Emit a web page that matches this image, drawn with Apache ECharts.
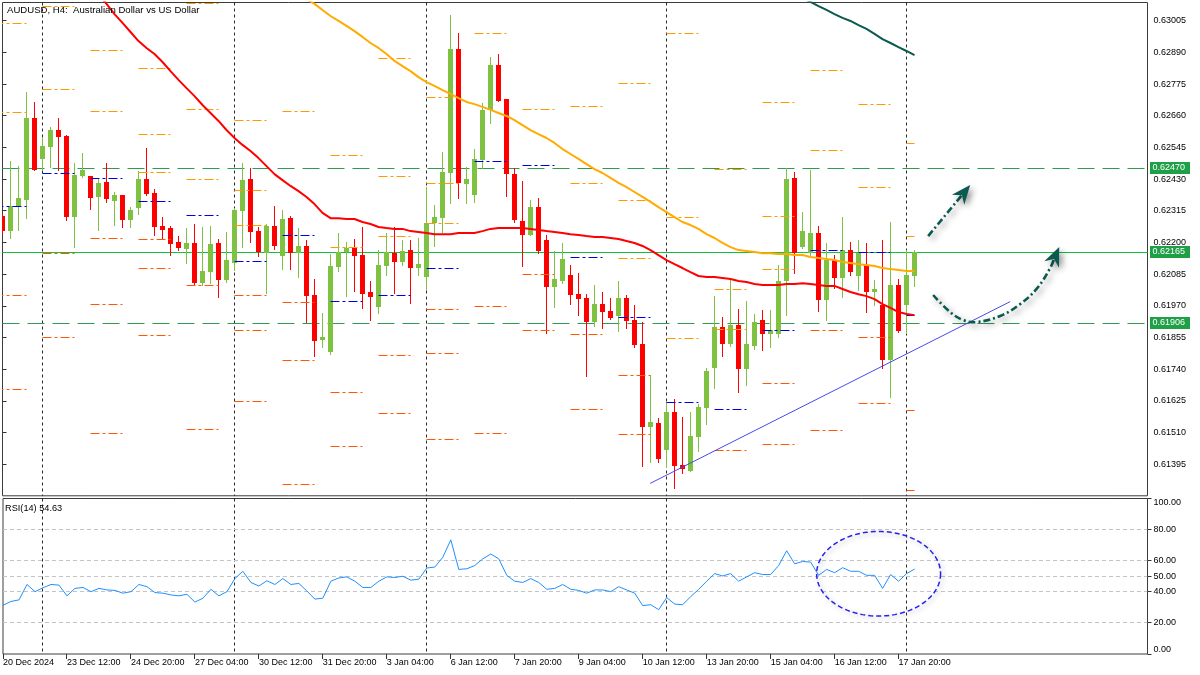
<!DOCTYPE html>
<html>
<head>
<meta charset="utf-8">
<script src="https://cdn.jsdelivr.net/npm/echarts@6/dist/echarts.min.js"></script>
<style>html,body{margin:0;padding:0;background:#fff}#c{width:1200px;height:675px}</style>
</head>
<body>
<div id="c"></div>
<script>
// ---------------- DATA ----------------
const chartTitle = 'AUDUSD, H4:  Australian Dollar vs US Dollar';
const rsiTitle = 'RSI(14) 54.63';
const timeLabels = ['20 Dec 2024','23 Dec 12:00','24 Dec 20:00','27 Dec 04:00','30 Dec 12:00','31 Dec 20:00','3 Jan 04:00','6 Jan 12:00','7 Jan 20:00','9 Jan 04:00','10 Jan 12:00','13 Jan 20:00','15 Jan 04:00','16 Jan 12:00','17 Jan 20:00'];
const labelStep = 8; // bars between time labels

const opens = [0.62296,0.62241,0.62332,0.62354,0.62652,0.62503,0.62546,0.62608,0.62586,0.62292,
0.62441,0.62441,0.62365,0.62419,0.62350,0.62372,0.62281,0.62325,0.62430,0.62379,
0.62259,0.62252,0.62201,0.62176,0.62198,0.62052,0.62092,0.62198,0.62063,0.62125,
0.62314,0.62430,0.62241,0.62161,0.62259,0.62151,0.62288,0.62161,0.62187,0.62009,
0.61846,0.61802,0.62111,0.62165,0.62180,0.62154,0.62020,0.61965,0.62114,0.62161,
0.62129,0.62172,0.62107,0.62074,0.62270,0.62288,0.62452,0.62902,0.62412,0.62372,
0.62499,0.62681,0.62844,0.62721,0.62448,0.62278,0.62227,0.62328,0.62209,0.62038,
0.62060,0.62082,0.62012,0.61998,0.61911,0.61976,0.61951,0.61933,0.61998,0.61918,
0.61831,0.61530,0.61544,0.61446,0.61584,0.61392,0.61370,0.61493,0.61599,0.61744,
0.61893,0.61831,0.61900,0.61740,0.61824,0.61918,0.61867,0.61867,0.62060,0.62434,
0.62183,0.62161,0.62234,0.61991,0.62136,0.62071,0.62172,0.62078,0.62118,0.62020,
0.61973,0.61773,0.62045,0.61973,0.62078];
const closes = [0.62241,0.62332,0.62361,0.62652,0.62463,0.62550,0.62608,0.62583,0.62292,0.62445,
0.62463,0.62361,0.62416,0.62357,0.62372,0.62281,0.62318,0.62430,0.62376,0.62256,
0.62245,0.62194,0.62180,0.62198,0.62052,0.62096,0.62194,0.62063,0.62136,0.62318,
0.62426,0.62238,0.62165,0.62259,0.62187,0.62285,0.62161,0.62187,0.62005,0.61842,
0.61856,0.62114,0.62165,0.62180,0.62151,0.62012,0.62002,0.62118,0.62165,0.62129,
0.62169,0.62107,0.62121,0.62270,0.62292,0.62456,0.62902,0.62416,0.62430,0.62503,
0.62681,0.62844,0.62713,0.62448,0.62281,0.62227,0.62328,0.62169,0.62038,0.62067,
0.62140,0.62009,0.61994,0.61911,0.61976,0.61947,0.61925,0.61998,0.61914,0.61827,
0.61530,0.61548,0.61413,0.61584,0.61388,0.61377,0.61497,0.61602,0.61733,0.61893,
0.61831,0.61900,0.61740,0.61831,0.61911,0.61867,0.61882,0.62060,0.62430,0.62161,
0.62241,0.62234,0.61991,0.62136,0.62071,0.62172,0.62092,0.62161,0.62020,0.62031,
0.61773,0.62045,0.61878,0.62082,0.62165];
const lows = [0.62234,0.62216,0.62245,0.62288,0.62463,0.62463,0.62474,0.62463,0.62281,0.62183,
0.62437,0.62321,0.62245,0.62347,0.62263,0.62256,0.62256,0.62303,0.62372,0.62227,
0.62212,0.62154,0.62172,0.62125,0.62045,0.62045,0.62052,0.62002,0.62056,0.62100,
0.62183,0.62201,0.62151,0.62016,0.62176,0.62103,0.62103,0.62074,0.61911,0.61787,
0.61820,0.61795,0.62096,0.62005,0.62023,0.61962,0.61918,0.61944,0.62082,0.62016,
0.62118,0.61980,0.62082,0.62031,0.62187,0.62238,0.62343,0.62361,0.62343,0.62347,
0.62470,0.62633,0.62713,0.62368,0.62274,0.62114,0.62227,0.62161,0.61871,0.61965,
0.62052,0.61976,0.61936,0.61715,0.61896,0.61889,0.61922,0.61878,0.61889,0.61820,
0.61388,0.61403,0.61403,0.61384,0.61308,0.61363,0.61370,0.61442,0.61540,0.61671,
0.61787,0.61824,0.61657,0.61682,0.61813,0.61809,0.61820,0.61856,0.61936,0.62089,
0.62180,0.62154,0.61951,0.61918,0.62034,0.62002,0.62082,0.62027,0.61947,0.61973,
0.61744,0.61639,0.61875,0.61871,0.62042];
const highs = [0.62303,0.62495,0.62477,0.62746,0.62710,0.62583,0.62619,0.62652,0.62590,0.62488,
0.62525,0.62441,0.62434,0.62488,0.62383,0.62372,0.62328,0.62459,0.62543,0.62394,
0.62292,0.62259,0.62223,0.62252,0.62267,0.62256,0.62259,0.62212,0.62238,0.62325,
0.62488,0.62470,0.62256,0.62267,0.62332,0.62318,0.62296,0.62252,0.62209,0.62067,
0.61944,0.62158,0.62234,0.62201,0.62212,0.62256,0.62060,0.62172,0.62234,0.62256,
0.62209,0.62209,0.62216,0.62401,0.62336,0.62528,0.63026,0.62960,0.62474,0.62539,
0.62706,0.62873,0.62884,0.62721,0.62470,0.62423,0.62354,0.62361,0.62227,0.62169,
0.62198,0.62118,0.62089,0.62012,0.62045,0.62020,0.61998,0.62060,0.62009,0.61973,
0.61911,0.61718,0.61562,0.61620,0.61631,0.61566,0.61584,0.61613,0.61744,0.62005,
0.61929,0.62063,0.61958,0.61987,0.61940,0.61954,0.61954,0.62118,0.62470,0.62456,
0.62310,0.62463,0.62259,0.62198,0.62154,0.62292,0.62201,0.62209,0.62198,0.62063,
0.62209,0.62274,0.62067,0.62172,0.62172];

const rsi = [31.3,33.8,34.8,44.7,40.1,42.6,44.7,44.3,37.4,42.2,
42.8,40.1,42.2,41.2,40.9,39.1,40.1,44.7,43.3,39.5,
39.1,38.0,37.4,38.4,33.4,35.9,41.6,37.4,40.1,48.5,
53.2,46.0,43.7,47.1,44.7,48.5,44.7,45.4,40.5,35.3,
35.9,46.8,48.9,49.6,46.8,42.8,42.8,46.8,49.6,49.2,
50.0,47.5,48.1,55.3,55.9,62.2,73.4,54.4,54.8,56.9,
61.2,64.3,61.2,50.6,46.8,46.0,48.5,46.0,41.6,42.2,
44.7,41.6,40.9,39.1,41.2,41.2,40.1,43.3,41.2,39.1,
31.1,31.7,28.5,36.3,32.1,31.7,36.9,41.6,46.8,51.7,
50.2,51.7,46.8,49.6,52.3,51.1,51.1,56.9,66.4,58.0,
59.5,59.1,50.6,54.4,52.3,55.5,53.2,53.2,50.6,50.6,
42.2,51.1,46.8,51.7,54.63];
const rsiLevels = [20, 40, 50, 60, 80];
const rsiAxisLabels = [0, 20, 40, 50, 60, 80, 100];

const maRedStart = 12;
const maRed = [0.63102,0.63066,0.63029,0.62997,0.62964,0.62931,0.62906,0.62884,0.62855,0.62822,
0.62790,0.62760,0.62731,0.62699,0.62670,0.62641,0.62608,0.62579,0.62554,0.62532,
0.62506,0.62477,0.62448,0.62426,0.62405,0.62386,0.62365,0.62339,0.62307,0.62288,
0.62288,0.62285,0.62285,0.62274,0.62267,0.62256,0.62252,0.62249,0.62249,0.62241,
0.62238,0.62234,0.62230,0.62230,0.62230,0.62234,0.62234,0.62234,0.62241,0.62249,
0.62252,0.62252,0.62252,0.62252,0.62249,0.62245,0.62241,0.62238,0.62234,0.62230,
0.62227,0.62223,0.62220,0.62220,0.62216,0.62212,0.62205,0.62198,0.62187,0.62172,
0.62154,0.62136,0.62121,0.62107,0.62092,0.62078,0.62074,0.62074,0.62071,0.62067,
0.62060,0.62056,0.62049,0.62045,0.62045,0.62045,0.62049,0.62049,0.62052,0.62049,
0.62045,0.62042,0.62042,0.62031,0.62020,0.62012,0.62005,0.61994,0.61976,0.61962,
0.61947,0.61940,0.61936];
const maOrangeStart = 38;
const maOrange = [0.63084,0.63066,0.63044,0.63022,0.63004,0.62986,0.62967,0.62946,0.62924,0.62906,
0.62884,0.62859,0.62840,0.62822,0.62800,0.62782,0.62768,0.62753,0.62739,0.62724,
0.62710,0.62702,0.62692,0.62681,0.62670,0.62659,0.62644,0.62626,0.62608,0.62593,
0.62579,0.62561,0.62539,0.62521,0.62503,0.62484,0.62466,0.62452,0.62434,0.62416,
0.62401,0.62383,0.62365,0.62347,0.62328,0.62310,0.62292,0.62274,0.62263,0.62249,
0.62230,0.62216,0.62198,0.62183,0.62172,0.62169,0.62165,0.62161,0.62161,0.62158,
0.62158,0.62154,0.62154,0.62147,0.62143,0.62140,0.62136,0.62129,0.62125,0.62121,
0.62118,0.62114,0.62107,0.62103,0.62100,0.62096,0.62096];
const maTealStart = 100;
const maTeal = [0.63087,0.63073,0.63058,0.63044,0.63029,0.63015,0.63004,0.62989,0.62975,0.62957,0.62938,0.62924,0.62909,0.62895,0.62880];

const separators = [5, 29, 53, 83, 113];

const pivotStarts = [-1,5,11,17,23,29,35,41,47,53,59,65,71,77,83,89,95,101,107,113];
const pivotCentral = [0.62331,0.62451,0.62433,0.62348,0.62296,0.62131,0.62226,0.61986,0.62008,0.62106,0.62494,0.62480,0.62146,0.61928,0.61619,0.61594,0.61881,0.62172,0.62162,0.61933];
const pivotAbove = [[0.62995,0.62672],[0.63055,0.62756],[0.62895,0.62677],[0.62832,0.62592,0.62454],[0.63066,0.62681,0.62429],
[0.62644,0.62390,0.62261],[0.62677],[0.62514,0.62182],[0.62868,0.62441,0.62222],[0.62727,0.62414,0.62269],
[0.62959],[0.62683],[0.62694,0.62414],[0.62778,0.62353,0.62142],[0.62959,0.62291,0.61852],
[0.62463,0.62030,0.61882],[0.62709,0.62295,0.62102],[0.62825,0.62534],[0.62701,0.62400],[0.62560,0.62222]];
const pivotBelow = [[0.62009,0.61666],[0.62160,0.61855],[0.62215,0.61973,0.61507],[0.62212,0.62106,0.61861],[0.62045,0.61521],
[0.62009,0.61880,0.61623],[0.61982,0.61772,0.61322],[0.61656,0.61460],[0.61790,0.61579],[0.61957,0.61797,0.61485],
[0.61969,0.61507],[0.62082,0.61880],[0.61866,0.61594],[0.61716,0.61503],[],
[0.61445],[0.61688,0.61467],[0.61880,0.61518],[0.61855,0.61616],[0.61590,0.61301]];
const pivotBars = 4;

const levelResist = 0.62470;
const levelBid = 0.62165;
const levelSupport = 0.61906;

const trendLine = [[80.96, 0.61325], [125.96, 0.61985]];
const arrowStraight = [[115.71, 0.62223], [120.96, 0.62408]];
const arrowCurve = [[116.33,0.62009],[118.46,0.61947],[120.09,0.61918],[121.84,0.61911],[124.71,0.61933],[127.21,0.61976],[129.34,0.62034],[130.96,0.62107],[132.09,0.62183]];
const rsiEllipseCenter = [109.5, 51.6];
const rsiEllipseRadius = [7.75, 27.2];

const priceMin = 0.6128, priceMax = 0.63071, priceStep = 0.00115;
const barsShown = 143.125;

// ---------------- CHART ----------------
const FONT = '"Liberation Sans", Arial, sans-serif';
const chart = echarts.init(document.getElementById('c'), null, {renderer: 'canvas', width: 1200, height: 675});
const N = opens.length;

function snap(v) { return Math.round(v - 0.5) + 0.5; }

function renderCandle(params, api) {
  const k = api.value(0), o = api.value(1), c = api.value(2), l = api.value(3), h = api.value(4);
  const pO = api.coord([k, o]), pC = api.coord([k, c]), pL = api.coord([k, l]), pH = api.coord([k, h]);
  const x = snap(pO[0]);
  const col = c >= o ? '#7fc241' : '#ff0000';
  const top = Math.round(Math.min(pO[1], pC[1]));
  const bot = Math.round(Math.max(pO[1], pC[1]));
  return {type: 'group', children: [
    {type: 'line', shape: {x1: x, y1: Math.round(pH[1]), x2: x, y2: Math.round(pL[1]) + 1}, style: {stroke: col, lineWidth: 1}},
    {type: 'rect', shape: {x: x - 2.5, y: top, width: 5, height: Math.max(1, bot - top)}, style: {fill: col}}
  ]};
}

function renderPivot(params, api) {
  const d = params.dataIndex;
  const s = pivotStarts[d];
  const e = Math.min(s + pivotBars, N - 1);
  const children = [];
  function seg(price, color) {
    const a = api.coord([s, price]), b = api.coord([e, price]);
    const y = snap(a[1]);
    children.push({type: 'line', shape: {x1: a[0], y1: y, x2: b[0], y2: y},
      style: {stroke: color, lineWidth: 1.2, lineDash: [9, 3, 3, 3]}});
  }
  pivotAbove[d].forEach(p => seg(p, '#ff9a00'));
  pivotBelow[d].forEach(p => seg(p, '#ff5a00'));
  seg(pivotCentral[d], '#0000e6');
  return {type: 'group', children};
}

function renderHLines(params, api) {
  const price = api.value(0), kind = api.value(1);
  const a = api.coord([0, price]), b = api.coord([barsShown, price]);
  const y = snap(a[1]);
  return {type: 'line', shape: {x1: a[0], y1: y, x2: b[0], y2: y},
    style: kind === 1 ? {stroke: '#12c13b', lineWidth: 1} : {stroke: '#2e9a52', lineWidth: 1.2, lineDash: [17, 8]}};
}

function renderTag(params, api) {
  const price = api.value(0);
  const p = api.coord([barsShown, price]);
  const y = Math.round(p[1]);
  return {type: 'group', children: [
    {type: 'rect', shape: {x: p[0] + 2.5, y: y - 6, width: 40, height: 12}, style: {fill: '#1fa047'}},
    {type: 'text', x: p[0] + 5, y: y, style: {text: price.toFixed(5), fill: '#ffffff', font: '9px ' + FONT,
      align: 'left', verticalAlign: 'middle', textAlign: 'left', textVerticalAlign: 'middle'}}
  ]};
}

function renderSeparator(yLo, yHi) {
  return function (params, api) {
    const k = api.value(0);
    const a = api.coord([k, yHi]), b = api.coord([k, yLo]);
    const x = snap(a[0]);
    return {type: 'line', shape: {x1: x, y1: a[1], x2: x, y2: b[1]},
      style: {stroke: '#2a2a2a', lineWidth: 1, lineDash: [3, 3]}};
  };
}

function renderTimeTick(params, api) {
  const k = api.value(0);
  const a = api.coord([k, 0]);
  const x = snap(a[0]);
  return {type: 'line', shape: {x1: x, y1: a[1], x2: x, y2: a[1] + 5}, style: {stroke: '#333', lineWidth: 1}};
}

function renderRsiLevel(params, api) {
  const v = api.value(0), isLevel = api.value(1);
  const a = api.coord([0, v]), b = api.coord([barsShown, v]);
  const y = snap(a[1]);
  const children = [];
  if (isLevel) {
    children.push({type: 'line', shape: {x1: a[0], y1: y, x2: b[0], y2: y},
      style: {stroke: '#c4c4c4', lineWidth: 1, lineDash: [4, 3]}});
  }
  children.push({type: 'line', shape: {x1: b[0], y1: y, x2: b[0] + 4, y2: y}, style: {stroke: '#333', lineWidth: 1}});
  return {type: 'group', children};
}

function arrowShapes(pts, api, smooth) {
  const px = pts.map(p => api.coord(p));
  const n = px.length;
  const tip = px[n - 1], prev = px[n - 2];
  const ang = Math.atan2(tip[1] - prev[1], tip[0] - prev[0]);
  const L = 19, W = 8, notch = 6;
  const cs = Math.cos(ang), sn = Math.sin(ang);
  const back = [tip[0] - L * cs, tip[1] - L * sn];
  const left = [back[0] + W * sn, back[1] - W * cs];
  const right = [back[0] - W * sn, back[1] + W * cs];
  const inner = [tip[0] - (L - notch) * cs, tip[1] - (L - notch) * sn];
  const linePts = px.slice(0, n - 1).concat([inner]);
  const shadow = {shadowBlur: 6, shadowColor: 'rgba(0,0,0,0.45)', shadowOffsetX: 3, shadowOffsetY: 3};
  return [
    {type: 'polyline', shape: {points: linePts, smooth: smooth},
      style: Object.assign({stroke: '#0b5a50', lineWidth: 2.6, fill: null, lineDash: [7, 3, 2, 3]}, shadow)},
    {type: 'polygon', shape: {points: [tip, left, inner, right]},
      style: Object.assign({fill: '#0b5a50'}, shadow)}
  ];
}

function renderArrows(params, api) {
  return {type: 'group', children: arrowShapes(arrowStraight, api, 0).concat(arrowShapes(arrowCurve, api, 0.4))};
}

function renderEllipse(params, api) {
  const c = api.coord(rsiEllipseCenter);
  const e = api.coord([rsiEllipseCenter[0] + rsiEllipseRadius[0], rsiEllipseCenter[1] + rsiEllipseRadius[1]]);
  const rx = Math.abs(e[0] - c[0]), ry = Math.abs(e[1] - c[1]);
  const pts = [];
  for (let i = 0; i <= 96; i++) {
    const t = i / 96 * Math.PI * 2;
    pts.push([c[0] + rx * Math.cos(t), c[1] + ry * Math.sin(t)]);
  }
  return {type: 'polyline', shape: {points: pts},
    style: {stroke: '#2323f0', lineWidth: 1.5, fill: null, lineDash: [5, 3],
      shadowBlur: 5, shadowColor: 'rgba(0,0,0,0.3)', shadowOffsetX: 2, shadowOffsetY: 2}};
}

const axisFont = {fontSize: 9, color: '#000', fontFamily: FONT};

const option = {
  animation: false,
  backgroundColor: '#ffffff',
  title: [
    {text: chartTitle, left: 7, top: 5, padding: 0, textStyle: {fontSize: 9.6, fontWeight: 'normal', color: '#000', fontFamily: FONT}},
    {text: rsiTitle, left: 5, top: 504, padding: 0, textStyle: {fontSize: 9.2, fontWeight: 'normal', color: '#000', fontFamily: FONT}}
  ],
  grid: [
    {left: 2.5, right: 52.5, top: 2.5, height: 493.3, show: true, borderColor: '#3c3c3c', borderWidth: 1, backgroundColor: 'transparent'},
    {left: 2.5, right: 52.5, top: 498.5, height: 155.5, show: true, borderColor: '#3c3c3c', borderWidth: 1, backgroundColor: 'transparent'}
  ],
  xAxis: [
    {type: 'value', gridIndex: 0, min: 0, max: barsShown, show: false},
    {type: 'value', gridIndex: 1, min: 0, max: barsShown, interval: labelStep,
      axisLine: {show: false}, splitLine: {show: false}, axisTick: {show: false},
      axisLabel: Object.assign({align: 'left', margin: 4, showMaxLabel: false,
        formatter: v => { const i = v / labelStep; return Math.abs(i - Math.round(i)) < 1e-6 && timeLabels[Math.round(i)] ? timeLabels[Math.round(i)] : ''; }}, axisFont)}
  ],
  yAxis: [
    {type: 'value', gridIndex: 0, position: 'right', min: priceMin, max: priceMax, interval: priceStep,
      axisLine: {show: false}, splitLine: {show: false},
      axisTick: {show: true, length: 4, lineStyle: {color: '#333'}},
      axisLabel: Object.assign({margin: 6, showMinLabel: false, showMaxLabel: false, formatter: v => v.toFixed(5)}, axisFont)},
    {type: 'value', gridIndex: 1, position: 'right', min: 0, max: 100, interval: 10,
      axisLine: {show: false}, splitLine: {show: false}, axisTick: {show: false},
      axisLabel: Object.assign({margin: 6, verticalAlignMinLabel: 'bottom', verticalAlignMaxLabel: 'top',
        formatter: v => rsiAxisLabels.indexOf(Math.round(v)) >= 0 ? v.toFixed(2) : ''}, axisFont)}
  ],
  series: [
    {type: 'custom', name: 'sepMain', xAxisIndex: 0, yAxisIndex: 0, z: 1, silent: true,
      data: separators.map(k => [k, priceMin]), encode: {x: 0, y: 1}, renderItem: renderSeparator(priceMin, priceMax)},
    {type: 'custom', name: 'sepRsi', xAxisIndex: 1, yAxisIndex: 1, z: 1, silent: true,
      data: separators.map(k => [k, 0]), encode: {x: 0, y: 1}, renderItem: renderSeparator(0, 100)},
    {type: 'custom', name: 'timeTicks', xAxisIndex: 1, yAxisIndex: 1, z: 1, silent: true, clip: false,
      data: timeLabels.map((t, i) => [i * labelStep, 0]), encode: {x: 0, y: 1}, renderItem: renderTimeTick},
    {type: 'custom', name: 'rsiLevels', xAxisIndex: 1, yAxisIndex: 1, z: 1, silent: true, clip: false,
      data: rsiAxisLabels.map(v => [v, rsiLevels.indexOf(v) >= 0 ? 1 : 0]), encode: {x: 1, y: 0}, renderItem: renderRsiLevel},
    {type: 'custom', name: 'hlines', xAxisIndex: 0, yAxisIndex: 0, z: 2, silent: true,
      data: [[levelResist, 0], [levelBid, 1], [levelSupport, 0]], encode: {y: 0}, renderItem: renderHLines},
    {type: 'custom', name: 'candles', xAxisIndex: 0, yAxisIndex: 0, z: 3, clip: true, silent: true,
      data: opens.map((o, i) => [i, o, closes[i], lows[i], highs[i]]), encode: {x: 0, y: [1, 2, 3, 4]}, renderItem: renderCandle},
    {type: 'custom', name: 'pivots', xAxisIndex: 0, yAxisIndex: 0, z: 4, clip: true, silent: true,
      data: pivotStarts.map((s, i) => [s, pivotCentral[i]]), encode: {x: 0, y: 1}, renderItem: renderPivot},
    {type: 'line', name: 'maTeal', xAxisIndex: 0, yAxisIndex: 0, z: 5, clip: true, silent: true, showSymbol: false, symbol: 'none',
      data: maTeal.map((v, i) => [maTealStart + i, v]), lineStyle: {color: '#0a5a4e', width: 2}},
    {type: 'line', name: 'maOrange', xAxisIndex: 0, yAxisIndex: 0, z: 5, clip: true, silent: true, showSymbol: false, symbol: 'none',
      data: maOrange.map((v, i) => [maOrangeStart + i, v]), lineStyle: {color: '#ffab00', width: 2}},
    {type: 'line', name: 'maRed', xAxisIndex: 0, yAxisIndex: 0, z: 5, clip: true, silent: true, showSymbol: false, symbol: 'none',
      data: maRed.map((v, i) => [maRedStart + i, v]), lineStyle: {color: '#ff0000', width: 2}},
    {type: 'line', name: 'trend', xAxisIndex: 0, yAxisIndex: 0, z: 5, clip: true, silent: true, showSymbol: false, symbol: 'none',
      data: trendLine, lineStyle: {color: '#4a4ae8', width: 1}},
    {type: 'custom', name: 'arrows', xAxisIndex: 0, yAxisIndex: 0, z: 6, clip: true, silent: true,
      data: [arrowStraight[0]], encode: {x: 0, y: 1}, renderItem: renderArrows},
    {type: 'custom', name: 'tags', xAxisIndex: 0, yAxisIndex: 0, z: 7, clip: false, silent: true,
      data: [[levelResist], [levelBid], [levelSupport]], encode: {y: 0}, renderItem: renderTag},
    {type: 'line', name: 'rsi', xAxisIndex: 1, yAxisIndex: 1, z: 5, silent: true, showSymbol: false, symbol: 'none',
      data: rsi.map((v, i) => [i, v]), lineStyle: {color: '#1e90ff', width: 1}},
    {type: 'custom', name: 'ellipse', xAxisIndex: 1, yAxisIndex: 1, z: 6, clip: false, silent: true,
      data: [rsiEllipseCenter], encode: {x: 0, y: 1}, renderItem: renderEllipse}
  ]
};
chart.setOption(option);
</script>
</body>
</html>
